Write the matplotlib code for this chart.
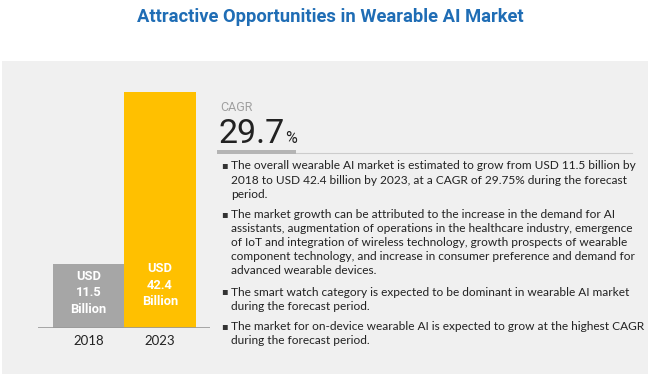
import matplotlib.pyplot as plt
from matplotlib.patches import Rectangle

years = ['2018', '2023']
values = [11.5, 42.4]
bar_labels = ['USD\n11.5\nBillion', 'USD\n42.4\nBillion']
bar_colors = ['#A6A6A6', '#FFC000']
cagr = '29.7'
bullets = [
    ['The overall wearable AI market is estimated to grow from USD 11.5 billion by',
     '2018 to USD 42.4 billion by 2023, at a CAGR of 29.75% during the forecast',
     'period.'],
    ['The market growth can be attributed to the increase in the demand for AI',
     'assistants, augmentation of operations in the healthcare industry, emergence',
     'of IoT and integration of wireless technology, growth prospects of wearable',
     'component technology, and increase in consumer preference and demand for',
     'advanced wearable devices.'],
    ['The smart watch category is expected to be dominant in wearable AI market',
     'during the forecast period.'],
    ['The market for on-device wearable AI is expected to grow at the highest CAGR',
     'during the forecast period.'],
]

plt.rcParams['font.family'] = ['Roboto', 'DejaVu Sans']
body_font = ['Lato', 'DejaVu Sans']

W, H = 650, 376
fig = plt.figure(figsize=(W / 100, H / 100), dpi=100)
fig.patch.set_facecolor('white')


def fx(px):
    return px / W


def fy(py):
    return 1 - py / H


# grey panel
fig.patches.append(Rectangle((fx(2), fy(374)), fx(646), (374 - 61) / H,
                             transform=fig.transFigure, facecolor='#F0F0F0',
                             edgecolor='none', zorder=-5))

fig.text(fx(330), fy(17), 'Attractive Opportunities in Wearable AI Market',
         ha='center', va='center', fontsize=13.2, fontweight='bold', color='#1F6DB5')

# bar chart
ax = fig.add_axes([fx(38), fy(328), fx(172), (328 - 85) / H])
ax.set_zorder(3)
ax.set_facecolor('none')
ax.bar([0, 1], values, width=1.0, color=bar_colors, zorder=2)
ax.set_xlim(-0.71, 1.70)
ax.set_ylim(0, 43.66)
ax.axhline(0, color='#999999', lw=1.2, zorder=3)
for s in ax.spines.values():
    s.set_visible(False)
ax.set_yticks([])
ax.set_xticks([0, 1])
ax.set_xticklabels(years, fontsize=9.5, color='#222222', family=body_font)
ax.tick_params(axis='x', length=0, pad=5)
ax.text(0, 6.3, bar_labels[0], ha='center', va='center', color='white',
        fontsize=9.3, fontweight='bold', linespacing=1.35)
ax.text(1, 7.7, bar_labels[1], ha='center', va='center', color='white',
        fontsize=9.3, fontweight='bold', linespacing=1.35)

# CAGR block
fig.text(fx(220), fy(111), 'CAGR', ha='left', va='baseline', fontsize=9,
         color='#A0A0A0')
fig.text(fx(219), fy(143), cagr, ha='left', va='baseline', fontsize=24.5,
         color='#222222')
fig.text(fx(285), fy(143), '%', ha='left', va='baseline', fontsize=11.5,
         color='#222222')
fig.patches.append(Rectangle((fx(217), fy(154)), fx(79), 4 / H,
                             transform=fig.transFigure, facecolor='#B4B4B4',
                             edgecolor='none'))
fig.lines.append(plt.Line2D([fx(296), fx(632)], [fy(153), fy(153)],
                            transform=fig.transFigure, color='#CCCCCC', lw=0.8))

# bullets
y = 166
for para in bullets:
    fig.text(fx(221), fy(y - 1), '\u25aa', ha='left', va='center', fontsize=7,
             color='#333333', family='DejaVu Sans')
    for line in para:
        fig.text(fx(231), fy(y), line, ha='left', va='center', fontsize=8.6,
                 color='#222222', family=body_font)
        y += 14
    y += 7

fig.savefig('out.png', dpi=100)
